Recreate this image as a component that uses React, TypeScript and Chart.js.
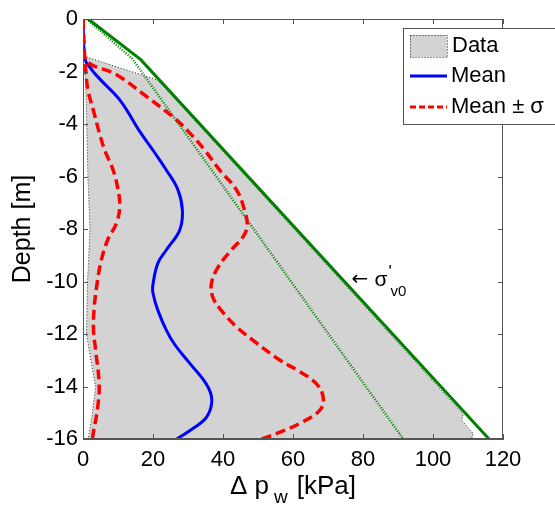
import React, { useEffect, useRef } from "react";
import { Chart, registerables } from "chart.js";

Chart.register(...registerables);

// ---- Data ----
const xTicksMax = 120;
const depthMin = -16;

// Data envelope (closed polygon): depth & Δp
const dataDepth = [-1.45, -2.33, -15.05, -15.3, -15.8, -16, -16, -15.2, -14.0, -13.2, -12.0, -10.0, -8.0, -6.0, -3.0, -2.0, -1.45];
const dataX = [1.0, 21.4, 108.6, 108.3, 111.5, 111.0, 1.5, 2.5, 3.6, 2.5, 1.0, 1.3, 2.0, 1.4, 0.9, 0.6, 1.0];

// Mean
const meanDepth = [0, -1.5, -1.9, -2.3, -3.1, -4.3, -5.0, -5.75, -6.5, -7.3, -8.05, -8.8, -9.3, -10.1, -10.45, -11.1, -11.85, -12.4, -13.1, -13.9, -14.5, -15.15, -15.6, -16];
const meanX = [0, 0.5, 2.3, 4.9, 10.6, 16.3, 20, 23.8, 27.1, 28.4, 27.6, 23.8, 21.4, 20, 20, 21.4, 23.8, 26.2, 30.4, 35.2, 36.8, 35.4, 31.4, 26.8];

// Mean - sigma
const lowDepth = [0, -1.5, -2.0, -2.7, -3.5, -4.3, -5.0, -5.75, -6.5, -7.15, -7.8, -8.4, -9.2, -10.1, -11.0, -11.85, -12.6, -13.9, -14.8, -15.8, -16];
const lowX = [0, 0.5, 0.8, 1.4, 3.0, 4.6, 6.2, 8.6, 10.0, 10.5, 9.5, 7.1, 5.2, 4.0, 3.2, 3.0, 3.6, 4.6, 4.2, 2.9, 2.7];

// Mean + sigma
const highDepth = [0, -1.5, -2.13, -2.97, -3.73, -4.3, -5.0, -5.75, -6.5, -7.3, -7.9, -8.3, -8.8, -9.45, -10.07, -10.6, -11.1, -11.72, -12.2, -13, -13.4, -13.87, -14.4, -14.9, -15.4, -15.74, -16];
const highX = [0, 0.5, 9.7, 18.3, 25.7, 30.2, 34.8, 39.0, 43.8, 46.2, 46.9, 45.7, 42.4, 38.6, 36.7, 37.1, 39.5, 43.8, 48.2, 56.3, 61.5, 66.5, 68.6, 67.7, 62, 56.3, 51];

// sigma'_v0 (solid green)
const sigDepth = [0, -1.55, -16];
const sigX = [1.5, 16.5, 116];

// dotted green line
const dotDepth = [0, -1.5, -16];
const dotX = [1.0, 14, 91.5];

// annotation position
const annX = 77;
const annDepth = -9.94;

const pts = (xs: number[], ys: number[]) => xs.map((x, i) => ({ x, y: ys[i] }));

const FONT = "'Liberation Sans', Arial, sans-serif";

const decorPlugin = {
  id: "decor",
  afterDraw(chart: any) {
    const { ctx, chartArea: a, scales } = chart;
    const xs = scales.x;
    const ys = scales.y;
    ctx.save();
    // box
    ctx.strokeStyle = "#555";
    ctx.lineWidth = 1;
    ctx.strokeRect(a.left + 0.5, a.top + 0.5, a.right - a.left - 1, a.bottom - a.top - 1);
    // inward ticks
    const tl = 5;
    ctx.beginPath();
    for (let v = 0; v <= xTicksMax; v += 20) {
      const p = Math.round(xs.getPixelForValue(v)) + 0.5;
      ctx.moveTo(p, a.top);
      ctx.lineTo(p, a.top + tl);
      ctx.moveTo(p, a.bottom);
      ctx.lineTo(p, a.bottom - tl);
    }
    for (let v = depthMin; v <= 0; v += 2) {
      const p = Math.round(ys.getPixelForValue(v)) + 0.5;
      ctx.moveTo(a.left, p);
      ctx.lineTo(a.left + tl, p);
      ctx.moveTo(a.right, p);
      ctx.lineTo(a.right - tl, p);
    }
    ctx.stroke();

    // annotation
    const ax = xs.getPixelForValue(annX);
    const ay = ys.getPixelForValue(annDepth);
    ctx.fillStyle = "#000";
    ctx.textBaseline = "middle";
    ctx.textAlign = "left";
    ctx.font = `20px 'DejaVu Sans', sans-serif`;
    ctx.fillText("\u2190", ax - 1, ay);
    ctx.font = `21px ${FONT}`;
    ctx.fillText("\u03C3", ax + 22, ay);
    ctx.font = `17px ${FONT}`;
    ctx.fillText("'", ax + 36, ay - 8);
    ctx.font = `15px ${FONT}`;
    ctx.fillText("v0", ax + 38, ay + 12);

    // x axis title with subscript
    const cx = (a.left + a.right) / 2;
    const base = 494;
    const p1 = "\u0394 p";
    const p2 = "[kPa]";
    ctx.font = `26px ${FONT}`;
    const w1 = ctx.measureText(p1).width;
    const w3 = ctx.measureText(p2).width;
    ctx.font = `19px ${FONT}`;
    const w2 = ctx.measureText("w").width;
    const gap1 = 5, gap2 = 9;
    const start = cx - (w1 + gap1 + w2 + gap2 + w3) / 2;
    ctx.textBaseline = "alphabetic";
    ctx.font = `26px ${FONT}`;
    ctx.fillText(p1, start, base);
    ctx.font = `19px ${FONT}`;
    ctx.fillText("w", start + w1 + gap1, base + 9);
    ctx.font = `26px ${FONT}`;
    ctx.fillText(p2, start + w1 + gap1 + w2 + gap2, base);

    // legend
    const lx = 403, ly = 28, lw = 170, lh = 96;
    ctx.fillStyle = "#fff";
    ctx.fillRect(lx, ly, lw, lh);
    ctx.strokeStyle = "#555";
    ctx.lineWidth = 1;
    ctx.strokeRect(lx + 0.5, ly + 0.5, lw, lh);
    const sx0 = 410, sx1 = 447;
    // data patch
    ctx.fillStyle = "#d3d3d3";
    ctx.fillRect(sx0, 35, sx1 - sx0, 22);
    ctx.setLineDash([1, 2]);
    ctx.strokeStyle = "#222";
    ctx.strokeRect(sx0 + 0.5, 35.5, sx1 - sx0, 22);
    ctx.setLineDash([]);
    // mean
    ctx.strokeStyle = "#0000ff";
    ctx.lineWidth = 3;
    ctx.beginPath();
    ctx.moveTo(sx0, 76);
    ctx.lineTo(sx1, 76);
    ctx.stroke();
    // mean +- sigma
    ctx.strokeStyle = "#ff0000";
    ctx.setLineDash([6, 3]);
    ctx.beginPath();
    ctx.moveTo(sx0, 107);
    ctx.lineTo(sx1, 107);
    ctx.stroke();
    ctx.setLineDash([]);
    ctx.fillStyle = "#000";
    ctx.textBaseline = "middle";
    ctx.font = `22px ${FONT}`;
    ctx.fillText("Data", 452, 46);
    ctx.fillText("Mean", 451, 76);
    ctx.fillText("Mean \u00B1 \u03C3", 451, 107);
    ctx.restore();
  },
};

export default function App() {
  const ref = useRef<HTMLCanvasElement | null>(null);
  useEffect(() => {
    document.body.style.margin = "0";
    const canvas = ref.current!;
    const curve = {
      pointRadius: 0,
      fill: false,
      tension: 0.4,
    };
    const chart = new Chart(canvas, {
      type: "line",
      data: {
        datasets: [
          {
            label: "Data",
            data: pts(dataX, dataDepth),
            fill: "shape",
            backgroundColor: "#d3d3d3",
            borderColor: "#222",
            borderWidth: 1,
            borderDash: [1, 2],
            pointRadius: 0,
            tension: 0,
            order: 10,
          },
          {
            label: "dotted",
            data: pts(dotX, dotDepth),
            borderColor: "#008000",
            borderWidth: 2.5,
            borderDash: [1, 1.6],
            pointRadius: 0,
            tension: 0,
            fill: false,
            order: 6,
          },
          {
            label: "sigma",
            data: pts(sigX, sigDepth),
            borderColor: "#008000",
            borderWidth: 3,
            pointRadius: 0,
            tension: 0,
            fill: false,
            order: 5,
          },
          {
            ...curve,
            label: "Mean",
            data: pts(meanX, meanDepth),
            borderColor: "#0000ff",
            borderWidth: 3,
            order: 2,
          },
          {
            ...curve,
            label: "Mean - sigma",
            data: pts(lowX, lowDepth),
            borderColor: "#ff0000",
            borderWidth: 3.5,
            borderDash: [10, 5],
            order: 1,
          },
          {
            ...curve,
            label: "Mean + sigma",
            data: pts(highX, highDepth),
            borderColor: "#ff0000",
            borderWidth: 3.5,
            borderDash: [10, 5],
            order: 1,
          },
        ],
      } as any,
      options: {
        responsive: false,
        animation: false,
        layout: { padding: { left: 0, right: 52, top: 19, bottom: 0 } },
        plugins: { legend: { display: false }, tooltip: { enabled: false } },
        scales: {
          x: {
            type: "linear",
            min: 0,
            max: xTicksMax,
            grid: { display: false, drawTicks: false },
            border: { display: true, color: "#555" },
            ticks: { stepSize: 20, padding: 8, color: "#000", font: { family: FONT, size: 22 } },
            afterFit: (s: any) => {
              s.height = 67;
            },
          },
          y: {
            type: "linear",
            min: depthMin,
            max: 0,
            grid: { display: false, drawTicks: false },
            border: { display: true, color: "#555" },
            ticks: { stepSize: 2, padding: 5, color: "#000", font: { family: FONT, size: 22 } },
            title: {
              display: true,
              text: "Depth [m]",
              color: "#000",
              font: { family: FONT, size: 25 },
              padding: { top: 8, bottom: 0 },
            },
            afterFit: (s: any) => {
              s.width = 83;
            },
          },
        },
      },
      plugins: [decorPlugin],
    });
    return () => chart.destroy();
  }, []);
  return (
    <canvas
      ref={ref}
      width={555}
      height={506}
      style={{ position: "absolute", left: 0, top: 0, width: 555, height: 506 }}
    />
  );
}
